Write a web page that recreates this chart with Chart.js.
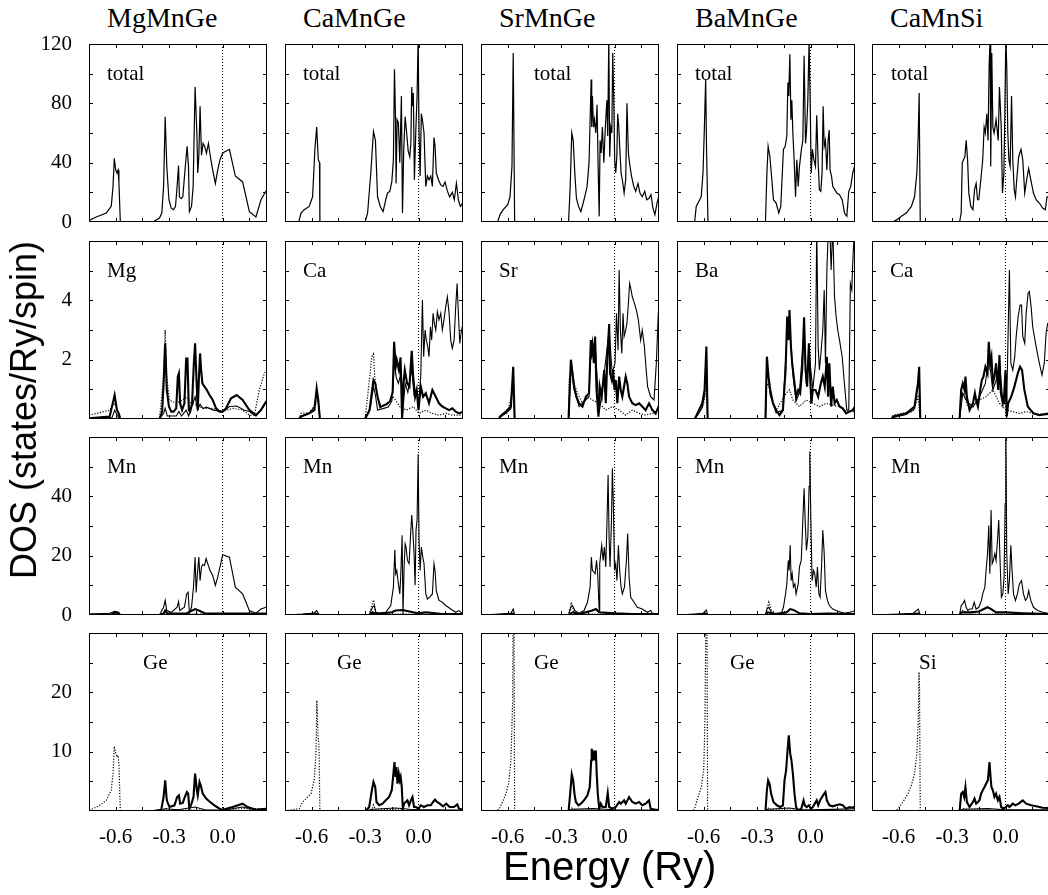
<!DOCTYPE html>
<html>
<head>
<meta charset="utf-8">
<script src="https://cdn.jsdelivr.net/npm/chart.js@4.4.1/dist/chart.umd.min.js"></script>
<style>
  html, body { margin: 0; padding: 0; background: #fff; overflow: hidden; }
  #fig { position: relative; width: 1048px; height: 895px; overflow: hidden; }
  #fig canvas { position: absolute; }
  .title { position: absolute; font: 28px/28px "Liberation Serif", serif; color: #000; white-space: nowrap; }
  .axt { position: absolute; font-family: "Liberation Sans", Arial, sans-serif; color: #000; white-space: nowrap; }
</style>
</head>
<body>
<div id="fig"></div>
<script>
// ---- DOS curves: [energy (Ry), DOS (states/Ry/spin)] ----
// s = dotted, p = thick, d = thin

// MgMnGe
const mgTotal = [[-0.75,1.1],[-0.709,3.4],[-0.653,6.1],[-0.625,10.6],[-0.615,24],[-0.608,43],[-0.6,35],[-0.593,33],[-0.587,35],[-0.582,27],[-0.574,0],[-0.391,0],[-0.354,2.7],[-0.341,6],[-0.331,24],[-0.322,71],[-0.313,37.5],[-0.301,15],[-0.288,9.4],[-0.275,8.3],[-0.264,10.5],[-0.255,24],[-0.247,38],[-0.242,17],[-0.232,15.7],[-0.223,17],[-0.212,33],[-0.199,51],[-0.191,37.5],[-0.186,7],[-0.174,10.5],[-0.165,24],[-0.154,91],[-0.144,60],[-0.139,33],[-0.133,44],[-0.126,78],[-0.118,45],[-0.109,53],[-0.1,51],[-0.09,46.5],[-0.079,53],[-0.068,44],[-0.055,35],[-0.04,26],[-0.027,35],[-0.014,42],[0.001,46.5],[0.039,49],[0.072,31],[0.113,27],[0.151,7],[0.188,3.4],[0.216,15],[0.244,20.7],[0.25,21]];
const mgAs = [[-0.75,0.13],[-0.69,0.21],[-0.634,0.3],[-0.606,0.53],[-0.587,0.25],[-0.574,0],[-0.354,0],[-0.333,1.3],[-0.322,3.0],[-0.313,1.43],[-0.299,0.64],[-0.26,0.53],[-0.223,0.64],[-0.204,0.75],[-0.176,0.53],[-0.148,0.47],[-0.11,0.36],[-0.055,0.36],[-0.002,0.25],[0.058,0.36],[0.113,0.3],[0.151,0.13],[0.179,0.13],[0.207,0.98],[0.235,1.54],[0.25,1.65]];
const mgAp = [[-0.75,0.02],[-0.634,0.08],[-0.606,0.81],[-0.593,0.3],[-0.582,0.17],[-0.574,0],[-0.354,0],[-0.339,0.25],[-0.33,1.31],[-0.322,2.55],[-0.313,0.98],[-0.301,0.42],[-0.288,0.25],[-0.275,0.25],[-0.26,0.36],[-0.251,1.43],[-0.245,1.54],[-0.238,0.53],[-0.227,0.3],[-0.214,0.53],[-0.204,2.04],[-0.197,2.04],[-0.189,0.3],[-0.182,0.25],[-0.171,0.53],[-0.161,1.88],[-0.154,2.55],[-0.146,1.31],[-0.139,0.3],[-0.133,1.31],[-0.126,2.21],[-0.12,1.65],[-0.113,1.2],[-0.101,1.09],[-0.088,0.98],[-0.073,0.81],[-0.055,0.64],[-0.036,0.36],[-0.017,0.25],[0.001,0.25],[0.02,0.36],[0.048,0.7],[0.08,0.81],[0.113,0.64],[0.151,0.3],[0.188,0.13],[0.216,0.3],[0.244,0.58],[0.25,0.6]];
const mgAd = [[-0.75,0.02],[-0.62,0.05],[-0.606,0.3],[-0.59,0.1],[-0.574,0],[-0.354,0],[-0.33,0.2],[-0.322,0.36],[-0.31,0.1],[-0.26,0.1],[-0.245,0.25],[-0.23,0.1],[-0.204,0.3],[-0.19,0.1],[-0.154,0.75],[-0.14,0.3],[-0.126,0.5],[-0.11,0.35],[-0.09,0.4],[-0.05,0.3],[0,0.25],[0.04,0.42],[0.08,0.44],[0.12,0.3],[0.15,0.25],[0.188,0.1],[0.215,0.3],[0.244,0.53],[0.25,0.55]];
const mgMns = [[-0.75,0.3],[-0.6,0.3],[-0.574,0],[-0.354,0],[-0.322,0.9],[-0.3,0.3],[0.25,0.3]];
const mgMnp = [[-0.75,0],[-0.62,0.2],[-0.606,0.9],[-0.58,0.3],[-0.574,0],[-0.354,0],[-0.33,0.5],[-0.322,1.5],[-0.31,0.5],[-0.2,0.6],[-0.154,2.0],[-0.133,1.5],[-0.101,0.6],[0,0.5],[0.1,0.5],[0.25,0.5]];
const mgMnd = [[-0.75,0.3],[-0.634,0.6],[-0.606,1.2],[-0.582,0.9],[-0.574,0],[-0.354,0],[-0.331,2.6],[-0.322,4.9],[-0.313,1.5],[-0.288,0.9],[-0.255,2.6],[-0.247,4.5],[-0.24,1.5],[-0.214,2.6],[-0.201,7.1],[-0.193,7.7],[-0.186,0.6],[-0.174,2.6],[-0.163,9.4],[-0.154,19.5],[-0.148,7.6],[-0.141,13.9],[-0.133,19.5],[-0.126,11.6],[-0.118,16.2],[-0.111,17],[-0.101,16.7],[-0.092,19],[-0.083,17.3],[-0.07,15],[-0.055,13.3],[-0.04,10],[-0.027,12.8],[-0.014,16.2],[0.001,20.3],[0.039,19.5],[0.072,9.4],[0.113,7.1],[0.151,1.5],[0.188,0.6],[0.216,2.0],[0.244,2.6],[0.25,2.6]];
const mgXs = [[-0.75,0.2],[-0.728,0.39],[-0.69,0.96],[-0.653,1.8],[-0.625,3.5],[-0.615,6.3],[-0.608,10.9],[-0.6,9.7],[-0.593,9.1],[-0.587,9.4],[-0.582,8.0],[-0.574,0],[-0.354,0],[-0.33,0.3],[-0.322,0.5],[-0.3,0.2],[0,0.1],[0.113,0.4],[0.25,0.4]];
const mgXp = [[-0.75,0],[-0.391,0],[-0.344,0.22],[-0.331,2.36],[-0.322,5.17],[-0.313,1.8],[-0.298,0.67],[-0.27,0.96],[-0.255,2.36],[-0.245,2.64],[-0.238,1.24],[-0.223,1.35],[-0.212,2.36],[-0.2,3.2],[-0.193,2.92],[-0.186,0.39],[-0.174,1.24],[-0.163,2.36],[-0.154,6.3],[-0.144,3.5],[-0.139,2.64],[-0.129,4.9],[-0.122,4.3],[-0.111,2.92],[-0.092,2.08],[-0.07,1.52],[-0.045,0.96],[-0.017,0.39],[0.001,0.22],[0.057,0.67],[0.113,1.24],[0.141,0.67],[0.188,0.22],[0.244,0.39],[0.25,0.4]];
const mgXd = [[-0.75,0],[-0.574,0],[-0.35,0],[-0.322,0.39],[-0.25,0.2],[-0.154,0.67],[-0.1,0.2],[0,0.1],[0.113,0.67],[0.2,0.1],[0.25,0.22]];

// CaMnGe
const caTotal = [[-0.75,0],[-0.673,0],[-0.66,6],[-0.642,8.3],[-0.614,10.5],[-0.595,17],[-0.582,49],[-0.572,64],[-0.563,42],[-0.556,40],[-0.554,0],[-0.3,0],[-0.286,6],[-0.268,33],[-0.253,61],[-0.242,55],[-0.23,17],[-0.215,10.5],[-0.199,7],[-0.184,15],[-0.174,19.5],[-0.161,20.7],[-0.15,27],[-0.141,42],[-0.135,103],[-0.129,69],[-0.126,26],[-0.12,69],[-0.113,67],[-0.105,40],[-0.096,85],[-0.09,6],[-0.083,49],[-0.075,71],[-0.068,62],[-0.058,48],[-0.049,44],[-0.043,53],[-0.038,91],[-0.034,78],[-0.029,87],[-0.023,28.5],[-0.015,62],[-0.008,85],[-0.002,125],[0.003,60],[0.009,31],[0.016,73],[0.024,67],[0.031,60],[0.041,24],[0.05,31],[0.059,28.5],[0.069,31],[0.078,24],[0.087,57],[0.093,51],[0.1,33],[0.112,28.5],[0.125,25],[0.138,24],[0.149,27],[0.162,21],[0.175,17],[0.19,20],[0.201,15],[0.213,26],[0.224,15],[0.235,10.5],[0.246,12.4],[0.25,12]];
const caAs = [[-0.75,0],[-0.67,0],[-0.66,0.19],[-0.614,0.21],[-0.576,0.53],[-0.565,0.64],[-0.554,0],[-0.3,0],[-0.28,1.09],[-0.262,2.1],[-0.253,2.19],[-0.246,1.43],[-0.23,0.75],[-0.21,0.42],[-0.18,0.47],[-0.143,0.75],[-0.105,0.42],[-0.068,0.3],[-0.03,0.42],[0.003,0.19],[0.041,0.3],[0.078,0.19],[0.115,0.13],[0.153,0.19],[0.19,0.13],[0.25,0.13]];
const caAp = [[-0.75,0],[-0.673,0],[-0.66,0.08],[-0.614,0.19],[-0.585,0.3],[-0.572,1.03],[-0.563,0.64],[-0.554,0],[-0.3,0],[-0.275,0.3],[-0.26,1.0],[-0.253,1.31],[-0.243,1.2],[-0.23,0.75],[-0.215,0.4],[-0.199,0.45],[-0.18,0.5],[-0.16,0.6],[-0.145,0.9],[-0.137,2.6],[-0.128,1.76],[-0.122,1.99],[-0.11,1.65],[-0.101,2.08],[-0.092,0.02],[-0.086,1.09],[-0.077,1.65],[-0.064,1.2],[-0.051,1.09],[-0.038,2.3],[-0.03,1.43],[-0.019,0.75],[-0.01,0.98],[0,0.3],[0.013,1.09],[0.026,0.75],[0.041,0.87],[0.059,0.53],[0.078,0.98],[0.097,0.75],[0.115,0.53],[0.134,0.42],[0.153,0.36],[0.172,0.3],[0.19,0.36],[0.209,0.25],[0.228,0.19],[0.25,0.25]];
const caAd = [[-0.75,0],[-0.673,0],[-0.66,0.1],[-0.614,0.2],[-0.585,0.4],[-0.572,0.9],[-0.563,0.6],[-0.554,0],[-0.3,0],[-0.27,0.4],[-0.253,1.09],[-0.242,0.8],[-0.23,0.3],[-0.2,0.35],[-0.17,0.4],[-0.15,0.6],[-0.135,1.9],[-0.125,1.4],[-0.113,1.2],[-0.096,1.6],[-0.09,0.1],[-0.075,1.2],[-0.06,0.9],[-0.038,1.7],[-0.025,0.8],[-0.01,0.9],[0,0.4],[0.013,1.5],[0.022,4.01],[0.029,2.1],[0.037,3.0],[0.044,2.66],[0.052,2.44],[0.059,2.1],[0.067,3.11],[0.074,2.66],[0.082,3.56],[0.089,3.22],[0.097,3.0],[0.106,3.62],[0.115,3.34],[0.125,3.56],[0.134,3.0],[0.143,3.34],[0.153,3.79],[0.162,4.12],[0.172,3.56],[0.181,2.66],[0.19,2.38],[0.2,2.66],[0.209,3.79],[0.217,4.57],[0.224,3.56],[0.232,2.55],[0.239,2.89],[0.246,3.11],[0.25,3.1]];
const caMns = [[-0.75,0],[-0.66,0],[-0.6,0.2],[-0.557,0],[-0.277,0],[-0.253,5.1],[-0.24,0.9],[-0.2,0.3],[0,0.3],[0.25,0.3]];
const caMnp = [[-0.75,0],[-0.66,0],[-0.58,0.5],[-0.557,0],[-0.277,0],[-0.258,0.9],[-0.24,0.3],[-0.15,0.9],[-0.128,1.5],[-0.09,1.7],[-0.03,0.9],[0,0.56],[0.041,0.9],[0.134,0.34],[0.25,0.34]];
const caMnd = [[-0.75,0],[-0.651,0.34],[-0.586,0.68],[-0.572,1.47],[-0.557,0],[-0.277,0],[-0.258,2.6],[-0.249,3.2],[-0.24,0.9],[-0.221,0.56],[-0.184,0.9],[-0.156,3.2],[-0.141,9.4],[-0.133,22],[-0.128,13.9],[-0.122,15],[-0.113,10.5],[-0.105,7.1],[-0.1,12.8],[-0.092,26.9],[-0.087,0],[-0.081,16.2],[-0.075,24],[-0.07,22.9],[-0.062,18.4],[-0.053,17.3],[-0.043,28.6],[-0.038,33.7],[-0.032,28.6],[-0.025,20.7],[-0.019,10],[-0.014,28.6],[-0.008,32],[-0.002,54.2],[0.003,25.2],[0.009,15],[0.016,22.9],[0.024,19.5],[0.031,17.3],[0.041,7.1],[0.05,5.4],[0.063,6],[0.078,7.1],[0.087,17.3],[0.093,15],[0.1,8.2],[0.115,4.9],[0.134,4.3],[0.153,3.2],[0.181,2.0],[0.209,0.9],[0.227,1.5],[0.246,0.56],[0.25,0.5]];
const caXs = [[-0.75,0],[-0.67,0.39],[-0.651,1.52],[-0.623,2.36],[-0.604,2.92],[-0.586,5.17],[-0.576,9.66],[-0.571,18.65],[-0.565,13.0],[-0.559,10.8],[-0.554,0],[-0.3,0],[-0.262,0.3],[-0.253,1.0],[-0.243,0.3],[0,0.1],[0.25,0.1]];
const caXp = [[-0.75,0],[-0.296,0],[-0.277,0.67],[-0.262,3.5],[-0.253,4.9],[-0.243,4.04],[-0.236,1.52],[-0.221,0.96],[-0.202,1.24],[-0.184,1.8],[-0.165,2.36],[-0.15,3.5],[-0.141,6.3],[-0.135,8.26],[-0.129,5.73],[-0.124,7.42],[-0.118,4.6],[-0.111,6.3],[-0.105,5.17],[-0.1,5.73],[-0.094,4.04],[-0.088,0.39],[-0.081,1.24],[-0.072,1.52],[-0.062,1.8],[-0.053,0.96],[-0.043,1.8],[-0.034,2.36],[-0.025,0.67],[-0.015,0.67],[0,0.39],[0.013,0.96],[0.031,0.67],[0.05,0.96],[0.069,0.96],[0.082,1.52],[0.093,1.91],[0.104,1.52],[0.119,1.24],[0.138,0.79],[0.156,1.24],[0.175,0.67],[0.199,0.67],[0.218,1.12],[0.227,0.39],[0.25,0.22]];
const caXd = [[-0.75,0],[-0.3,0],[-0.253,0.3],[-0.13,0.5],[-0.05,0.3],[0,0.22],[0.1,0.22],[0.25,0.1]];

// SrMnGe
const srTotal = [[-0.75,0],[-0.657,0],[-0.643,5],[-0.625,8.3],[-0.6,11.7],[-0.587,17],[-0.576,37.5],[-0.569,114],[-0.561,0],[-0.258,0],[-0.249,24],[-0.24,60],[-0.232,55],[-0.223,33],[-0.214,16],[-0.202,10.5],[-0.189,7],[-0.176,12.8],[-0.165,18],[-0.154,24],[-0.143,40],[-0.135,78],[-0.131,96],[-0.128,64],[-0.124,85],[-0.118,64],[-0.113,69],[-0.105,60],[-0.098,79],[-0.092,37.5],[-0.086,3.8],[-0.081,55],[-0.075,46.5],[-0.068,64],[-0.06,40],[-0.053,60],[-0.043,82],[-0.038,58],[-0.032,125],[-0.027,44],[-0.021,64],[-0.015,60],[-0.01,114],[-0.004,82],[0.001,42],[0.007,33],[0.013,44],[0.018,73],[0.024,64],[0.029,51],[0.037,33],[0.044,28.5],[0.054,19.5],[0.063,28.5],[0.07,80],[0.078,46.5],[0.087,37.5],[0.097,30],[0.108,24],[0.119,20.7],[0.132,26],[0.143,19.5],[0.156,17],[0.17,20.7],[0.181,15],[0.194,16],[0.205,18.4],[0.216,9.4],[0.227,5],[0.239,12.8],[0.248,17],[0.25,18]];
const srAs = [[-0.75,0],[-0.647,0],[-0.645,0.08],[-0.6,0.21],[-0.569,1.09],[-0.561,0],[-0.258,0],[-0.255,1.31],[-0.242,1.88],[-0.227,1.2],[-0.208,0.87],[-0.18,0.53],[-0.152,0.75],[-0.124,0.64],[-0.086,0.53],[-0.049,0.3],[-0.012,0.42],[0.026,0.3],[0.063,0.13],[0.1,0.3],[0.138,0.19],[0.175,0.13],[0.213,0.19],[0.25,0.13]];
const srAp = [[-0.75,0],[-0.647,0],[-0.645,0.08],[-0.61,0.25],[-0.582,0.42],[-0.569,1.76],[-0.561,0],[-0.258,0],[-0.245,2.0],[-0.236,1.54],[-0.227,1.09],[-0.214,0.75],[-0.199,0.53],[-0.18,0.42],[-0.161,0.75],[-0.143,0.87],[-0.133,2.66],[-0.128,2.3],[-0.124,2.49],[-0.116,1.88],[-0.109,2.78],[-0.101,0.98],[-0.09,0.08],[-0.083,1.09],[-0.072,0.75],[-0.058,1.65],[-0.049,0.53],[-0.04,2.1],[-0.03,3.2],[-0.025,1.54],[-0.015,1.31],[-0.008,1.65],[0,0.98],[0.007,1.31],[0.016,0.53],[0.026,1.43],[0.035,0.98],[0.044,0.75],[0.063,1.43],[0.072,1.2],[0.082,0.75],[0.1,0.53],[0.119,0.47],[0.138,0.53],[0.156,0.42],[0.175,0.3],[0.194,0.53],[0.213,0.3],[0.231,0.19],[0.25,0.45]];
const srAd = [[-0.75,0],[-0.647,0],[-0.645,0.05],[-0.61,0.2],[-0.582,0.35],[-0.569,1.5],[-0.561,0],[-0.258,0],[-0.245,1.88],[-0.227,0.98],[-0.199,0.42],[-0.143,0.75],[-0.133,2.44],[-0.109,2.55],[-0.086,0.2],[-0.058,1.54],[-0.03,2.99],[-0.012,1.43],[-0.008,1.65],[0.003,1.88],[0.011,3.56],[0.02,2.32],[0.026,5.02],[0.033,3.0],[0.041,2.21],[0.048,3.56],[0.054,2.78],[0.063,3.0],[0.07,3.22],[0.078,3.9],[0.085,4.57],[0.093,4.35],[0.1,4.12],[0.112,3.9],[0.123,3.67],[0.134,3.34],[0.147,2.66],[0.156,3.0],[0.168,2.44],[0.175,1.88],[0.186,1.09],[0.203,0.75],[0.222,0.64],[0.235,1.88],[0.246,3.56],[0.25,3.7]];
const srMns = [[-0.75,0],[-0.65,0],[-0.58,0.2],[-0.561,0],[-0.258,0],[-0.242,4.3],[-0.227,0.9],[-0.2,0.3],[0.25,0.3]];
const srMnp = [[-0.75,0],[-0.65,0],[-0.57,0.5],[-0.561,0],[-0.258,0],[-0.236,0.9],[-0.2,0.3],[-0.124,1.5],[-0.105,2.0],[-0.086,0.9],[0,0.56],[0.1,0.34],[0.25,0.34]];
const srMnd = [[-0.75,0],[-0.647,0.34],[-0.582,0.56],[-0.569,2.0],[-0.561,0],[-0.258,0],[-0.245,2.6],[-0.236,3.2],[-0.223,1.5],[-0.199,0.56],[-0.171,1.5],[-0.152,4.3],[-0.137,9.4],[-0.13,19.5],[-0.124,15],[-0.116,14.5],[-0.109,13.9],[-0.101,18.4],[-0.094,13.3],[-0.086,1.5],[-0.083,17.3],[-0.077,20.7],[-0.072,23.5],[-0.064,18.4],[-0.057,22.9],[-0.049,16.2],[-0.042,32],[-0.036,47.2],[-0.03,25.2],[-0.025,16.2],[-0.017,32],[-0.012,49.5],[-0.006,36.5],[0,15],[0.007,17.3],[0.014,11.6],[0.022,23.5],[0.029,15],[0.037,9.4],[0.044,7.1],[0.056,9.4],[0.067,18.4],[0.074,27.5],[0.082,12.8],[0.091,6],[0.11,4.3],[0.128,2.6],[0.156,2.0],[0.184,0.9],[0.203,1.5],[0.213,0.56],[0.25,0.34]];
const srXs = [[-0.75,0],[-0.665,0],[-0.647,0.39],[-0.629,1.52],[-0.61,2.92],[-0.595,4.6],[-0.582,8.5],[-0.572,18.65],[-0.569,35],[-0.565,35],[-0.561,0],[-0.258,0],[-0.24,0.5],[-0.22,0.2],[0,0.1],[0.25,0.1]];
const srXp = [[-0.75,0],[-0.258,0],[-0.249,2.92],[-0.24,6.18],[-0.232,5.17],[-0.225,2.92],[-0.217,1.52],[-0.202,0.96],[-0.189,1.24],[-0.171,1.8],[-0.152,2.64],[-0.139,4.04],[-0.131,8.54],[-0.128,10.5],[-0.122,8.54],[-0.116,10.2],[-0.111,8.54],[-0.105,10.2],[-0.1,6.3],[-0.094,2.92],[-0.086,0.39],[-0.077,1.24],[-0.068,0.67],[-0.049,0.67],[-0.038,3.03],[-0.03,0.67],[-0.012,0.39],[0.007,0.67],[0.026,1.52],[0.035,1.24],[0.054,1.8],[0.063,1.24],[0.082,2.36],[0.1,1.52],[0.119,1.24],[0.138,1.52],[0.156,0.96],[0.175,1.24],[0.194,1.8],[0.203,0.39],[0.231,0.22],[0.25,0.22]];
const srXd = [[-0.75,0],[-0.258,0],[-0.24,0.3],[-0.12,0.4],[-0.05,0.3],[0,0.2],[0.25,0.1]];

// BaMnGe
const baTotal = [[-0.75,0],[-0.651,0],[-0.642,10.5],[-0.627,14],[-0.614,17],[-0.604,33],[-0.597,60],[-0.589,96],[-0.584,49],[-0.576,0],[-0.253,0],[-0.245,33],[-0.238,51],[-0.228,44],[-0.219,31],[-0.208,15],[-0.193,12.8],[-0.178,6],[-0.167,10.5],[-0.152,49],[-0.142,51],[-0.133,58],[-0.127,94],[-0.122,85],[-0.116,113],[-0.11,69],[-0.105,82],[-0.099,60],[-0.092,42],[-0.084,17],[-0.077,42],[-0.069,24],[-0.062,37.5],[-0.051,49],[-0.043,55],[-0.036,112],[-0.028,53],[-0.023,60],[-0.015,82],[-0.008,122],[-0.002,82],[0.004,33],[0.011,49],[0.019,42],[0.028,37.5],[0.035,72],[0.043,40],[0.05,21.8],[0.058,20.7],[0.065,33],[0.071,78],[0.077,51],[0.084,55],[0.092,35],[0.099,55],[0.105,62],[0.11,35],[0.118,31],[0.125,24],[0.136,21.8],[0.148,19.5],[0.163,18.4],[0.178,15],[0.191,6],[0.204,3.8],[0.215,20.7],[0.226,24],[0.237,33],[0.25,38.6]];
const baAs = [[-0.75,0],[-0.65,0],[-0.627,0.19],[-0.604,0.42],[-0.585,0.98],[-0.578,0],[-0.253,0],[-0.249,1.09],[-0.239,1.2],[-0.221,0.75],[-0.193,0.3],[-0.137,0.87],[-0.118,0.98],[-0.099,0.64],[-0.062,0.42],[-0.024,0.64],[0.013,0.53],[0.05,0.42],[0.088,0.53],[0.125,0.47],[0.163,0.42],[0.2,0.25],[0.25,0.25]];
const baAp = [[-0.75,0],[-0.65,0],[-0.627,0.3],[-0.608,0.53],[-0.595,0.98],[-0.585,2.44],[-0.578,0],[-0.253,0],[-0.245,2.1],[-0.236,1.43],[-0.226,0.98],[-0.211,0.53],[-0.193,0.3],[-0.174,0.13],[-0.155,0.3],[-0.14,1.65],[-0.131,3.45],[-0.124,2.66],[-0.118,3.67],[-0.11,2.44],[-0.103,1.88],[-0.092,1.31],[-0.081,0.75],[-0.069,0.98],[-0.058,0.87],[-0.047,1.65],[-0.036,3.43],[-0.028,1.65],[-0.019,1.09],[-0.009,2.55],[-0.002,1.43],[0.005,0.53],[0.013,0.98],[0.028,0.98],[0.043,0.75],[0.058,1.2],[0.069,1.43],[0.08,1.09],[0.092,2.1],[0.099,0.75],[0.106,1.88],[0.116,0.42],[0.125,1.09],[0.136,0.53],[0.148,0.64],[0.163,0.42],[0.181,0.36],[0.2,0.19],[0.219,0.25],[0.237,0.3],[0.25,0.42]];
const baAd = [[-0.75,0],[-0.65,0],[-0.627,0.2],[-0.608,0.4],[-0.595,0.8],[-0.585,2.2],[-0.578,0],[-0.253,0],[-0.245,1.8],[-0.226,0.8],[-0.193,0.2],[-0.155,0.3],[-0.131,3.0],[-0.118,3.2],[-0.099,1.5],[-0.081,0.6],[-0.062,0.9],[-0.036,3.0],[-0.024,1.2],[-0.009,2.3],[0.013,1.0],[0.028,1.88],[0.035,6.5],[0.043,2.44],[0.05,1.65],[0.06,2.32],[0.069,2.99],[0.077,4.35],[0.084,1.88],[0.092,5.02],[0.101,6.5],[0.108,6.5],[0.116,5.02],[0.125,6.5],[0.135,4.12],[0.144,3.45],[0.153,3.0],[0.163,2.66],[0.178,2.1],[0.192,1.09],[0.204,0.3],[0.215,0.3],[0.224,4.57],[0.232,4.35],[0.237,5.2],[0.247,6.5],[0.25,6.5]];
const baMns = [[-0.75,0],[-0.65,0],[-0.59,0.2],[-0.578,0],[-0.253,0],[-0.234,4.3],[-0.219,1.5],[-0.19,0.3],[0.25,0.25]];
const baMnp = [[-0.75,0],[-0.65,0],[-0.59,0.5],[-0.578,0],[-0.253,0],[-0.24,0.9],[-0.2,0.3],[-0.133,0.9],[-0.114,2.0],[-0.096,1.7],[-0.062,0.56],[0,0.34],[0.1,0.5],[0.25,0.34]];
const baMnd = [[-0.75,0],[-0.651,0.34],[-0.604,0.56],[-0.585,1.7],[-0.578,0],[-0.253,0],[-0.245,2.0],[-0.234,2.6],[-0.221,0.9],[-0.193,0.34],[-0.165,0.34],[-0.152,2.6],[-0.14,7.1],[-0.133,10.5],[-0.125,18.4],[-0.12,15],[-0.114,23.5],[-0.109,11.6],[-0.103,13.9],[-0.096,9.4],[-0.088,10.5],[-0.081,7.1],[-0.069,10.5],[-0.062,16.2],[-0.052,18.4],[-0.043,32],[-0.036,42.7],[-0.03,32],[-0.023,21.8],[-0.015,26.3],[-0.008,43.3],[-0.004,55.1],[0.002,32],[0.009,11.6],[0.017,15],[0.024,13.9],[0.032,9.4],[0.039,16.2],[0.047,7.1],[0.054,6],[0.062,16.2],[0.069,28.6],[0.077,20.7],[0.084,8.2],[0.095,4.9],[0.106,3.2],[0.125,2.0],[0.144,1.5],[0.172,0.9],[0.191,0.56],[0.219,0.9],[0.237,1.2],[0.25,1.5]];
const baXs = [[-0.75,0],[-0.66,0],[-0.651,0.39],[-0.632,2.36],[-0.613,4.04],[-0.6,6.85],[-0.593,15.3],[-0.587,35],[-0.582,35],[-0.578,0],[-0.253,0],[-0.24,0.5],[-0.22,0.2],[0,0.1],[0.25,0.1]];
const baXp = [[-0.75,0],[-0.253,0],[-0.245,3.5],[-0.238,5.17],[-0.23,4.6],[-0.221,2.92],[-0.208,1.52],[-0.189,0.96],[-0.17,0.67],[-0.155,0.96],[-0.146,5.17],[-0.137,6.85],[-0.129,10.2],[-0.122,12.75],[-0.114,9.66],[-0.107,8.54],[-0.099,6.3],[-0.09,2.92],[-0.081,0.67],[-0.071,0.11],[-0.052,0.39],[-0.039,1.8],[-0.032,0.96],[-0.021,0.67],[-0.009,0.96],[0.002,0.39],[0.013,0.67],[0.024,1.24],[0.035,1.8],[0.043,0.96],[0.054,1.8],[0.065,2.36],[0.077,2.92],[0.084,3.2],[0.092,1.8],[0.106,0.96],[0.125,0.79],[0.144,0.96],[0.163,1.12],[0.181,0.96],[0.2,0.39],[0.219,0.67],[0.237,0.56],[0.25,0.79]];
const baXd = [[-0.75,0],[-0.253,0],[-0.24,0.3],[-0.12,0.5],[-0.05,0.2],[0,0.22],[0.125,0.28],[0.25,0.39]];

// CaMnSi
const csTotal = [[-0.75,0],[-0.632,0],[-0.61,1.6],[-0.585,3.8],[-0.557,6],[-0.529,10.5],[-0.511,17],[-0.498,33],[-0.49,60],[-0.485,87],[-0.479,0],[-0.258,0],[-0.249,6],[-0.243,40],[-0.236,42],[-0.228,44],[-0.221,55],[-0.213,42],[-0.206,19.5],[-0.195,10.5],[-0.183,8.3],[-0.174,21.8],[-0.165,26],[-0.157,15],[-0.15,15],[-0.135,33],[-0.128,42],[-0.12,64],[-0.113,60],[-0.105,73],[-0.098,55],[-0.092,105],[-0.086,125],[-0.083,37.5],[-0.077,114],[-0.071,64],[-0.064,60],[-0.053,69],[-0.041,55],[-0.034,91],[-0.024,64],[-0.017,19.5],[-0.009,33],[-0.004,71],[0.002,125],[0.007,105],[0.013,60],[0.019,42],[0.026,37.5],[0.034,85],[0.041,42],[0.049,21.8],[0.056,17],[0.063,28.5],[0.074,44],[0.087,49],[0.097,42],[0.108,19.5],[0.119,28.5],[0.13,36],[0.142,28.5],[0.157,19.5],[0.172,15],[0.19,12.8],[0.209,9.4],[0.224,8.3],[0.233,17],[0.25,17]];
const csAs = [[-0.75,0],[-0.64,0],[-0.632,0.13],[-0.576,0.19],[-0.52,0.25],[-0.492,0.75],[-0.479,0],[-0.258,0],[-0.249,0.75],[-0.236,0.87],[-0.212,0.42],[-0.172,0.53],[-0.146,0.64],[-0.109,0.75],[-0.071,0.98],[-0.034,0.53],[0.003,0.3],[0.041,0.25],[0.078,0.19],[0.116,0.25],[0.153,0.19],[0.25,0.13]];
const csAp = [[-0.75,0],[-0.64,0],[-0.632,0.08],[-0.557,0.19],[-0.511,0.42],[-0.492,1.2],[-0.485,1.76],[-0.479,0],[-0.258,0],[-0.249,0.98],[-0.24,1.2],[-0.23,0.98],[-0.225,1.43],[-0.217,0.75],[-0.202,0.3],[-0.183,0.53],[-0.172,0.87],[-0.165,0.64],[-0.155,0.42],[-0.142,0.98],[-0.133,1.31],[-0.124,1.43],[-0.113,1.76],[-0.101,1.54],[-0.094,2.6],[-0.086,1.88],[-0.079,2.1],[-0.071,1.2],[-0.062,1.43],[-0.053,1.88],[-0.041,0.98],[-0.034,2.16],[-0.026,0.87],[-0.015,0.53],[-0.008,0.75],[0,1.65],[0.007,0.08],[0.015,0.53],[0.032,0.75],[0.05,1.09],[0.069,1.54],[0.082,1.76],[0.093,1.65],[0.106,0.98],[0.125,0.42],[0.157,0.19],[0.19,0.13],[0.25,0.19]];
const csAd = [[-0.75,0],[-0.64,0],[-0.632,0.05],[-0.557,0.15],[-0.511,0.35],[-0.485,1.5],[-0.479,0],[-0.258,0],[-0.24,0.87],[-0.217,0.6],[-0.183,0.4],[-0.146,0.75],[-0.113,1.2],[-0.094,2.1],[-0.071,0.98],[-0.053,1.3],[-0.034,1.88],[-0.015,0.6],[-0.006,0.53],[0.003,1.5],[0.007,0.53],[0.015,3.0],[0.022,5.02],[0.03,1.88],[0.041,1.65],[0.052,2.1],[0.06,2.78],[0.071,3.45],[0.082,3.84],[0.09,3.84],[0.097,2.78],[0.108,2.55],[0.116,3.56],[0.127,4.24],[0.134,4.3],[0.144,3.78],[0.153,3.1],[0.172,2.44],[0.19,1.88],[0.205,1.48],[0.218,1.88],[0.228,2.89],[0.237,3.22],[0.25,3.3]];
const csMns = [[-0.75,0],[-0.6,0],[-0.49,0.2],[-0.479,0],[-0.258,0],[-0.24,1.5],[-0.2,0.3],[0.25,0.2]];
const csMnp = [[-0.75,0],[-0.6,0],[-0.49,0.5],[-0.479,0],[-0.258,0],[-0.249,0.9],[-0.2,0.9],[-0.15,1.2],[-0.101,2.6],[-0.081,2.0],[-0.053,0.9],[0,0.9],[0.1,0.6],[0.25,0.34]];
const csMnd = [[-0.75,0],[-0.595,0.34],[-0.52,0.56],[-0.49,2.0],[-0.479,0],[-0.258,0],[-0.249,3.2],[-0.24,3.7],[-0.23,4.9],[-0.221,2.6],[-0.212,1.5],[-0.202,2.0],[-0.187,2.0],[-0.176,4.3],[-0.165,2.0],[-0.15,2.6],[-0.135,4.9],[-0.128,7.1],[-0.116,9.4],[-0.109,15],[-0.101,20.7],[-0.094,30.2],[-0.088,13.9],[-0.081,35.4],[-0.075,17.3],[-0.068,18.4],[-0.06,20.7],[-0.053,18.4],[-0.045,25.2],[-0.038,32],[-0.03,17.3],[-0.023,6],[-0.015,7.1],[-0.008,12.8],[-0.002,37.6],[0.002,66],[0.007,20.7],[0.015,7.1],[0.022,11.6],[0.03,23.5],[0.037,15],[0.045,7.1],[0.056,4.9],[0.067,7.1],[0.078,10.5],[0.09,11.6],[0.101,7.1],[0.112,4.9],[0.123,6],[0.13,8.2],[0.142,4.9],[0.157,2.6],[0.181,1.5],[0.209,0.9],[0.237,0.56],[0.25,0.5]];
const csXs = [[-0.75,0],[-0.62,0],[-0.604,0.39],[-0.576,1.52],[-0.548,2.92],[-0.529,4.33],[-0.511,6.3],[-0.498,9.66],[-0.49,15.3],[-0.486,23.4],[-0.483,20.8],[-0.479,0],[-0.258,0],[-0.24,0.4],[-0.2,0.2],[0,0.1],[0.25,0.1]];
const csXp = [[-0.75,0],[-0.258,0],[-0.249,2.92],[-0.24,3.2],[-0.232,2.36],[-0.225,4.04],[-0.217,1.52],[-0.202,0.67],[-0.183,1.52],[-0.174,2.08],[-0.165,1.24],[-0.155,1.52],[-0.146,1.8],[-0.137,2.92],[-0.128,3.48],[-0.118,4.04],[-0.109,4.6],[-0.099,5.17],[-0.09,8.26],[-0.084,5.73],[-0.079,4.04],[-0.071,3.48],[-0.062,2.36],[-0.053,2.92],[-0.043,1.8],[-0.034,2.36],[-0.024,0.67],[-0.011,0.39],[0.002,0.67],[0.013,0.96],[0.022,0.67],[0.041,1.24],[0.056,0.96],[0.074,1.24],[0.097,1.8],[0.116,1.24],[0.144,0.96],[0.172,0.79],[0.209,0.56],[0.237,0.51],[0.25,0.5]];
const csXd = [[-0.75,0],[-0.258,0],[-0.24,0.3],[-0.1,0.4],[0,0.22],[0.25,0.22]];

// ---- labels, axes ----
const compounds = ['MgMnGe', 'CaMnGe', 'SrMnGe', 'BaMnGe', 'CaMnSi'];
const siteLabels = [
  ['total', 'Mg', 'Mn', 'Ge'],
  ['total', 'Ca', 'Mn', 'Ge'],
  ['total', 'Sr', 'Mn', 'Ge'],
  ['total', 'Ba', 'Mn', 'Ge'],
  ['total', 'Ca', 'Mn', 'Si']
];
const energyTicks = [-0.75, -0.6, -0.45, -0.3, -0.15, 0, 0.15, 0.25];
const energyTickLabels = { '-0.6': '-0.6', '-0.3': '-0.3', '0': '0.0' };
const rowMax = [120, 6, 60, 30];
const rowStep = [20, 1, 10, 5];
const rowTickLabels = [[0, 40, 80, 120], [2, 4], [0, 20, 40], [10, 20]];
const fermiLevel = 0.0;

const curves = [
  [[mgTotal], [mgAp, mgAd, mgAs], [mgMnp, mgMnd, mgMns], [mgXp, mgXd, mgXs]],
  [[caTotal], [caAp, caAd, caAs], [caMnp, caMnd, caMns], [caXp, caXd, caXs]],
  [[srTotal], [srAp, srAd, srAs], [srMnp, srMnd, srMns], [srXp, srXd, srXs]],
  [[baTotal], [baAp, baAd, baAs], [baMnp, baMnd, baMns], [baXp, baXd, baXs]],
  [[csTotal], [csAp, csAd, csAs], [csMnp, csMnd, csMns], [csXp, csXd, csXs]]
];

// ---- layout ----
const panelLeft = [89, 285, 481, 677, 872];
const panelTop = [44, 241, 437, 633];
const SIZE = 178;
// top padding must exceed the y-tick label half height + tick padding, or Chart.js pushes the area down
const PAD_L = 60, PAD_T = 26, PAD_R = 8, PAD_B = 40;
const labelOffset = [
  [18, 18, 53, 18, 19],
  [18, 18, 18, 18, 18],
  [18, 18, 18, 18, 19],
  [54, 52, 53, 53, 47]
];
const serif = '"Liberation Serif", "Times New Roman", serif';

const lineStyles = {
  total: { borderWidth: 1.2 },
  p: { borderWidth: 2.1 },
  d: { borderWidth: 1.1 },
  s: { borderWidth: 1.2, borderDash: [1.2, 1.6] }
};

const fig = document.getElementById('fig');

function addText(cls, text, css) {
  const el = document.createElement('div');
  el.className = cls;
  el.textContent = text;
  Object.assign(el.style, css);
  fig.appendChild(el);
  return el;
}

function panelDecor(label, offset) {
  return {
    id: 'panelDecor',
    afterDraw(chart) {
      const { ctx, chartArea: a, scales: { x, y } } = chart;
      ctx.save();
      ctx.strokeStyle = '#000';
      ctx.lineWidth = 1;
      ctx.strokeRect(a.left + 0.5, a.top + 0.5, a.width - 1, a.height - 1);
      ctx.beginPath();
      x.ticks.forEach(t => {
        if (t.value <= x.min || t.value >= x.max) return;
        const px = Math.round(x.getPixelForValue(t.value)) + 0.5;
        ctx.moveTo(px, a.bottom); ctx.lineTo(px, a.bottom - 4);
        ctx.moveTo(px, a.top); ctx.lineTo(px, a.top + 4);
      });
      y.ticks.forEach(t => {
        if (t.value <= y.min || t.value >= y.max) return;
        const py = Math.round(y.getPixelForValue(t.value)) + 0.5;
        ctx.moveTo(a.left, py); ctx.lineTo(a.left + 4, py);
        ctx.moveTo(a.right, py); ctx.lineTo(a.right - 4, py);
      });
      ctx.stroke();
      ctx.fillStyle = '#000';
      ctx.font = '21px ' + serif;
      ctx.textBaseline = 'alphabetic';
      ctx.fillText(label, a.left + offset, a.top + 36);
      ctx.restore();
    }
  };
}

function makePanel(c, r) {
  const canvas = document.createElement('canvas');
  const w = PAD_L + SIZE + PAD_R, h = PAD_T + SIZE + PAD_B;
  canvas.width = w; canvas.height = h;
  canvas.style.width = w + 'px'; canvas.style.height = h + 'px';
  canvas.style.left = (panelLeft[c] - PAD_L) + 'px';
  canvas.style.top = (panelTop[r] - PAD_T) + 'px';
  fig.appendChild(canvas);

  const kinds = r === 0 ? ['total'] : ['p', 'd', 's'];
  const datasets = curves[c][r].map((pts, i) => Object.assign({
    data: pts,
    borderColor: '#000',
    pointRadius: 0,
    tension: 0
  }, lineStyles[kinds[i]]));
  datasets.push({
    data: [[fermiLevel, 0], [fermiLevel, rowMax[r]]],
    borderColor: '#000',
    borderWidth: 1,
    borderDash: [1, 2],
    pointRadius: 0
  });

  const yTicks = [];
  for (let v = 0; v <= rowMax[r]; v += rowStep[r]) yTicks.push(v);

  new Chart(canvas, {
    type: 'line',
    data: { datasets },
    options: {
      responsive: false,
      animation: false,
      events: [],
      layout: { padding: { left: 0, top: PAD_T, right: PAD_R, bottom: 0 } },
      plugins: { legend: { display: false }, tooltip: { enabled: false } },
      scales: {
        x: {
          type: 'linear',
          min: -0.75,
          max: 0.25,
          afterBuildTicks: s => { s.ticks = energyTicks.map(v => ({ value: v })); },
          afterFit: s => { s.height = PAD_B; },
          grid: { display: false },
          border: { display: false },
          ticks: {
            display: r === 3,
            autoSkip: false,
            maxRotation: 0,
            padding: 6,
            color: '#000',
            font: { family: serif, size: 21 },
            callback: v => energyTickLabels[String(v)] || ''
          }
        },
        y: {
          type: 'linear',
          min: 0,
          max: rowMax[r],
          afterBuildTicks: s => { s.ticks = yTicks.map(v => ({ value: v })); },
          afterFit: s => { s.width = PAD_L; },
          grid: { display: false },
          border: { display: false },
          ticks: {
            display: c === 0,
            autoSkip: false,
            padding: 9,
            color: '#000',
            font: { family: serif, size: 21 },
            callback: v => rowTickLabels[r].includes(v) ? String(v) : ''
          }
        }
      }
    },
    plugins: [panelDecor(siteLabels[c][r], labelOffset[r][c])]
  });
}

compounds.forEach((name, c) => {
  addText('title', name, { left: (panelLeft[c] + 18) + 'px', top: '4px' });
  for (let r = 0; r < 4; r++) makePanel(c, r);
});

addText('axt', 'DOS (states/Ry/spin)', {
  fontSize: '36px', lineHeight: '36px',
  left: '24px', top: '410px',
  transform: 'translate(-50%, -50%) rotate(-90deg)'
});
addText('axt', 'Energy (Ry)', {
  fontSize: '40px', lineHeight: '40px',
  left: '503px', top: '846px'
});
</script>
</body>
</html>
